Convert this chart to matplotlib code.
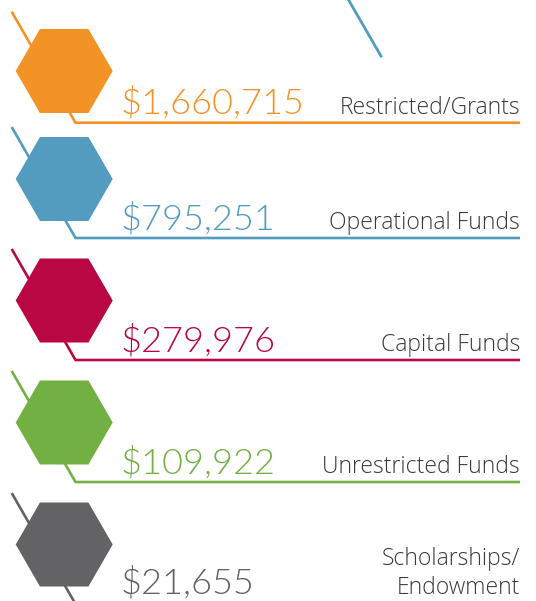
import matplotlib
matplotlib.use("Agg")
import matplotlib.pyplot as plt
from matplotlib.patches import RegularPolygon
from matplotlib import font_manager

categories = ["Restricted/Grants", "Operational Funds", "Capital Funds",
              "Unrestricted Funds", "Scholarships/\nEndowment"]
amounts = [1660715, 795251, 279976, 109922, 21655]
colors = ["#F39325", "#539CC0", "#B80742", "#72B043", "#636365"]

# layout (pixels, y downward)
W, H = 536, 601
line_y = [122.7, 238, 360, 482, 604]
hex_cy = [71, 179, 300.5, 422.5, 544.5]
hex_cx = 64.2
hex_r = 48.5
line_x0, line_x1 = 75.5, 520
diag_x0 = 11.7
diag_dy = 111

fig = plt.figure(figsize=(W / 100, H / 100), dpi=100)
ax = fig.add_axes([0, 0, 1, 1])
ax.set_xlim(0, W)
ax.set_ylim(H, 0)
ax.axis("off")

names = {f.name for f in font_manager.fontManager.ttflist}
fam = "Lato" if "Lato" in names else "DejaVu Sans"
lab_fam = "Open Sans" if "Open Sans" in names else fam
WT = 300
LAB = 16.5

# stray blue line at top
ax.plot([348.6 - 10, 381.7], [-17.3, 57.3], color=colors[1], lw=2.0,
        solid_capstyle="butt", zorder=1)

for i, (cat, amt, col) in enumerate(zip(categories, amounts, colors)):
    ly = line_y[i]
    ax.plot([diag_x0, line_x0, line_x1], [ly - diag_dy, ly, ly], color=col,
            lw=1.9, solid_joinstyle="miter", solid_capstyle="butt", zorder=1)
    hexagon = RegularPolygon((hex_cx, hex_cy[i]), numVertices=6, radius=hex_r,
                             orientation=0.5235987756, facecolor=col,
                             edgecolor="none", zorder=2)
    ax.add_patch(hexagon)
    base = ly - 9
    if i == 4:
        base = 593
    ax.text(121, base, "${:,}".format(amt), color=col, fontsize=26,
            family=fam, fontweight=WT, ha="left", va="baseline", zorder=3)
    if "\n" in cat:
        l1, l2 = cat.split("\n")
        ax.text(520, 565, l1, color="#3a3a3a", fontsize=LAB, family=lab_fam,
                fontweight=WT, ha="right", va="baseline", zorder=3)
        ax.text(520, 594, l2, color="#3a3a3a", fontsize=LAB, family=lab_fam,
                fontweight=WT, ha="right", va="baseline", zorder=3)
    else:
        ax.text(520, base, cat, color="#3a3a3a", fontsize=LAB, family=lab_fam,
                fontweight=WT, ha="right", va="baseline", zorder=3)

fig.savefig("out.png", dpi=100)
